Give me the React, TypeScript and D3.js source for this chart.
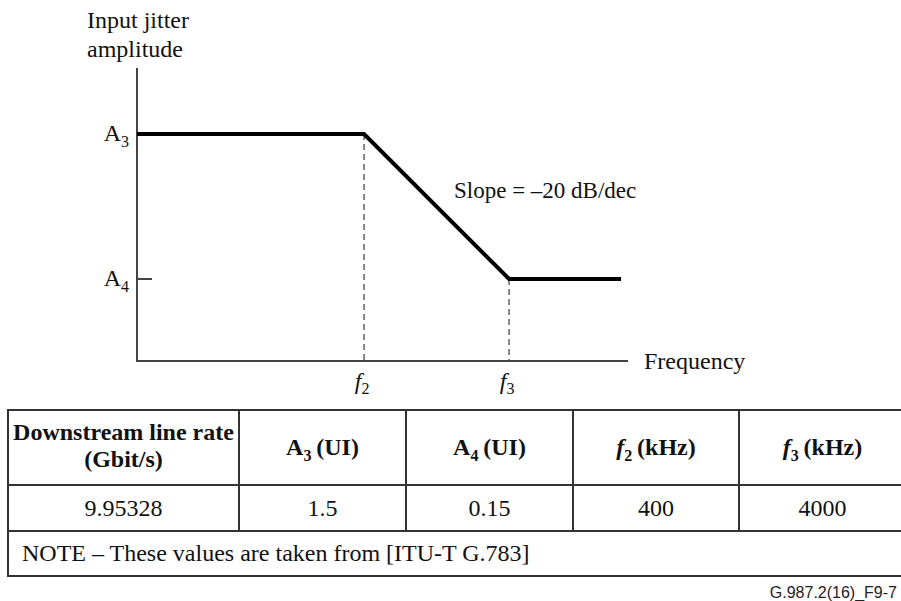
import React from 'react';
import * as d3 from 'd3';

// ---- chart data ----
const freqKHz = [10.87, 400, 4000, 23690];
const amplitudeUI = [1.5, 1.5, 0.15, 0.15];
const freqAxisDomain = [10.87, 26440];
const ampAxisDomain = [0.0408, 4.28];
const cornerFreqs = [400, 4000];
const cornerFreqSubs = ['2', '3'];
const cornerAmps = [1.5, 0.15];
const ampLabelSubs = ['3', '4'];
const slopeLabel = 'Slope = \u201320 dB/dec';
const yAxisTitle = ['Input jitter', 'amplitude'];
const xAxisTitle = 'Frequency';

// ---- table data ----
const headerMain = ['A', 'A', 'f', 'f'];
const headerSub = ['3', '4', '2', '3'];
const headerUnit = ['(UI)', '(UI)', '(kHz)', '(kHz)'];
const firstHeader = ['Downstream line rate', '(Gbit/s)'];
const rowValues = ['9.95328', '1.5', '0.15', '400', '4000'];
const noteText = 'NOTE \u2013 These values are taken from [ITU-T G.783]';
const figureId = 'G.987.2(16)_F9-7';

const SERIF = '"Liberation Serif", "Times New Roman", serif';
const SANS = '"Liberation Sans", Arial, sans-serif';
const FS = 24;

export default function App() {
  const W = 901, H = 601;
  const left = 137, right = 628, top = 68, bottom = 361;
  const x = d3.scaleLog().domain(freqAxisDomain).range([left, right]);
  const y = d3.scaleLog().domain(ampAxisDomain).range([bottom, top]);
  const pts = freqKHz.map((f, i) => [f, amplitudeUI[i]] as [number, number]);
  const line = d3.line<[number, number]>().x(d => x(d[0])).y(d => y(d[1]));

  const axisColor = '#444';
  // table geometry
  const colX = [8, 239, 406, 573, 739, 906];
  const rowY = [410, 485, 531, 576];
  const tColor = '#333';

  return (
    <svg width={W} height={H} style={{ position: 'absolute', left: 0, top: 0, background: '#fff' }}
      fontFamily={SERIF}>
      <rect x={0} y={0} width={W} height={H} fill="#fff" />
      {/* y axis title */}
      {yAxisTitle.map((t, i) => (
        <text key={t} x={87} y={28 + i * 29} fontSize={FS} fill="#111">{t}</text>
      ))}
      {/* dashed verticals */}
      {cornerFreqs.map((f, i) => (
        <line key={'d' + i} x1={x(f)} x2={x(f)} y1={y(cornerAmps[i])} y2={bottom}
          stroke="#555" strokeWidth={1.4} strokeDasharray="6,4" />
      ))}
      {/* axes */}
      <line x1={left} x2={left} y1={top} y2={bottom + 1} stroke={axisColor} strokeWidth={2} />
      <line x1={left - 1} x2={right} y1={bottom} y2={bottom} stroke={axisColor} strokeWidth={2} />
      <line x1={left} x2={left + 15} y1={y(cornerAmps[1])} y2={y(cornerAmps[1])} stroke={axisColor} strokeWidth={2} />
      {/* mask curve */}
      <path d={line(pts) || ''} fill="none" stroke="#000" strokeWidth={4} strokeLinejoin="miter" />
      {/* y labels */}
      {cornerAmps.map((a, i) => (
        <text key={'a' + i} x={left - 8} y={y(a) + 7} fontSize={FS} textAnchor="end" fill="#111">
          A<tspan fontSize={16} dy={6}>{ampLabelSubs[i]}</tspan>
        </text>
      ))}
      {/* x labels */}
      {cornerFreqs.map((f, i) => (
        <text key={'f' + i} x={x(f) - 2} y={bottom + 28} fontSize={FS} textAnchor="middle" fill="#111">
          <tspan fontStyle="italic">f</tspan><tspan fontSize={16} dy={5}>{cornerFreqSubs[i]}</tspan>
        </text>
      ))}
      <text x={right + 16} y={bottom + 8} fontSize={FS} fill="#111">{xAxisTitle}</text>
      <text x={454} y={198} fontSize={23} fill="#111">{slopeLabel}</text>

      {/* table */}
      <g stroke={tColor} strokeWidth={2}>
        {rowY.map((ry, i) => (
          <line key={'h' + i} x1={colX[0] - 1} x2={colX[colX.length - 1]} y1={ry} y2={ry} />
        ))}
        <line x1={colX[0]} x2={colX[0]} y1={rowY[0]} y2={rowY[3]} />
        {colX.slice(1, -1).map((cx, i) => (
          <line key={'v' + i} x1={cx} x2={cx} y1={rowY[0]} y2={rowY[2]} />
        ))}
      </g>
      {firstHeader.map((t, i) => (
        <text key={t} x={(colX[0] + colX[1]) / 2} y={440 + i * 27} fontSize={FS} fontWeight="bold"
          textAnchor="middle" fill="#111">{t}</text>
      ))}
      {headerMain.map((m, i) => (
        <text key={'hd' + i} x={(colX[i + 1] + colX[i + 2]) / 2} y={455} fontSize={FS} fontWeight="bold"
          textAnchor="middle" fill="#111">
          <tspan fontStyle={m === 'f' ? 'italic' : 'normal'}>{m}</tspan>
          <tspan fontSize={16} dy={6}>{headerSub[i]}</tspan>
          <tspan dy={-6}>{'\u2009' + headerUnit[i]}</tspan>
        </text>
      ))}
      {rowValues.map((v, i) => (
        <text key={'rv' + i} x={(colX[i] + colX[i + 1]) / 2} y={516} fontSize={FS}
          textAnchor="middle" fill="#111">{v}</text>
      ))}
      <text x={22} y={561} fontSize={FS} fill="#111">{noteText}</text>
      <text x={897} y={598} fontSize={16} fontFamily={SANS} textAnchor="end" fill="#222">{figureId}</text>
    </svg>
  );
}
